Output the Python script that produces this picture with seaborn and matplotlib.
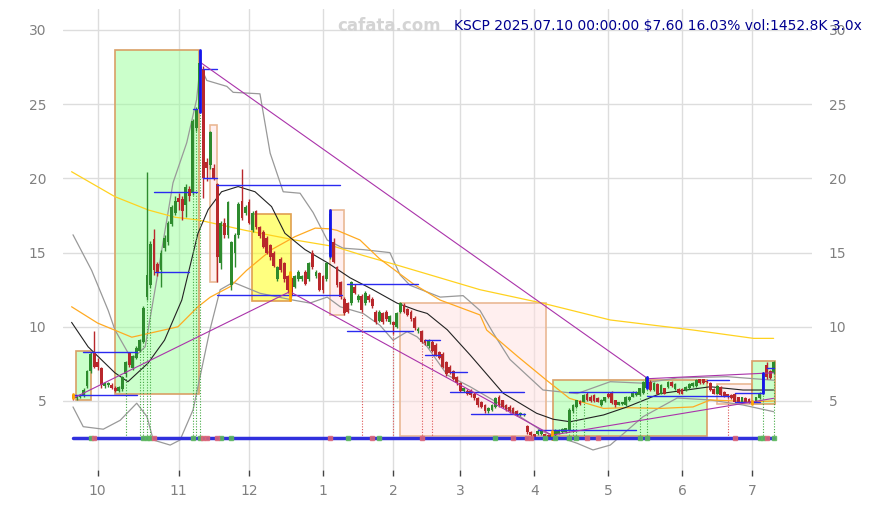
import numpy as np
import pandas as pd
import matplotlib
matplotlib.use("Agg")
import matplotlib.pyplot as plt
import seaborn as sns
from matplotlib.patches import Rectangle

# ---------------- data ----------------
month_idx = [7, 30, 50, 71, 91, 110, 131, 152, 173, 193]
month_labels = ["10", "11", "12", "1", "2", "3", "4", "5", "6", "7"]

opens = [5.4, 5.2, 5.3, 5.35, 6.0, 7.0, 8.3, 7.6, 7.2, 6.0,
         6.1, 6.1, 5.9, 5.7, 5.8, 6.8, 8.25, 7.2, 7.9, 8.4,
         9.0, 12.0, 12.8, 15.9, 14.2, 13.8, 15.3, 15.7, 16.9, 17.7,
         18.7, 18.6, 18.2, 19.3, 19.0, 23.4, 24.7, 27.4, 21.1, 20.9,
         20.7, 19.6, 14.3, 17.0, 16.2, 12.8, 15.0, 16.2, 18.5, 17.7,
         18.4, 16.5, 17.8, 16.7, 16.4, 16.0, 15.5, 15.0, 13.2, 14.6,
         14.3, 13.4, 13.3, 12.7, 13.2, 13.2, 13.7, 13.2, 15.0, 13.4,
         13.6, 13.4, 13.2, 14.8, 15.7, 14.0, 13.0, 11.9, 11.6, 11.6,
         12.7, 11.8, 12.1, 11.6, 12.1, 11.9, 11.0, 10.4, 10.9, 11.0,
         10.3, 10.3, 10.0, 11.0, 11.5, 11.2, 11.0, 10.6, 9.75, 9.7,
         9.1, 8.7, 9.0, 8.8, 8.3, 8.2, 7.6, 7.3, 7.0, 6.6,
         6.2, 5.7, 5.7, 5.7, 5.5, 5.2, 4.95, 4.7, 4.3, 4.4,
         4.6, 5.3, 5.05, 4.7, 4.6, 4.5, 4.3, 4.05, 4.05, 3.3,
         2.9, 2.75, 2.8, 2.75, 2.75, 2.7, 2.55, 2.7, 2.8, 2.9,
         2.9, 3.05, 4.3, 4.6, 5.0, 4.95, 5.45, 5.3, 5.4, 5.2,
         4.7, 5.0, 5.5, 5.6, 5.07, 4.75, 4.8, 4.7, 5.07, 5.3,
         5.4, 5.4, 5.56, 5.85, 6.3, 5.74, 6.15, 5.5, 5.85, 5.96,
         6.3, 5.8, 5.8, 5.8, 5.74, 5.85, 6.0, 6.0, 6.46, 6.46,
         6.3, 6.23, 5.8, 5.5, 5.96, 5.6, 5.45, 5.4, 5.5, 5.25,
         4.95, 5.2, 5.15, 5.0, 4.95, 5.18, 5.56, 7.4, 7.0, 6.9]
highs = [5.5, 5.4, 5.5, 5.9, 7.1, 8.3, 9.7, 7.9, 7.3, 6.3,
         6.3, 6.2, 6.0, 6.0, 6.7, 7.7, 8.3, 8.1, 8.7, 9.2,
         11.4, 20.4, 15.8, 16.6, 14.4, 15.2, 16.2, 17.1, 18.2, 18.8,
         19.0, 18.8, 19.6, 19.5, 24.0, 24.8, 28.6, 27.6, 21.4, 23.2,
         21.0, 19.7, 17.1, 17.3, 18.5, 15.8, 16.3, 18.4, 20.6, 18.2,
         18.6, 17.8, 17.9, 16.8, 16.5, 16.1, 15.6, 15.1, 14.1, 14.7,
         14.4, 13.5, 13.4, 13.5, 13.8, 13.5, 13.8, 14.4, 15.2, 13.8,
         13.7, 13.5, 14.4, 17.9, 16.0, 14.1, 13.1, 12.0, 11.7, 13.1,
         12.9, 12.2, 12.2, 12.4, 12.2, 12.0, 11.1, 11.1, 11.0, 11.1,
         10.8, 10.4, 11.0, 11.7, 11.6, 11.3, 11.1, 10.7, 10.0, 9.8,
         9.2, 9.2, 9.1, 8.9, 8.4, 8.3, 7.7, 7.4, 7.1, 6.7,
         6.3, 5.9, 5.8, 5.8, 5.6, 5.3, 5.0, 4.8, 4.6, 4.8,
         5.3, 5.4, 5.1, 4.8, 4.7, 4.6, 4.4, 4.25, 4.2, 3.4,
         3.0, 2.8, 3.1, 3.0, 2.8, 2.75, 3.0, 3.1, 3.1, 3.15,
         3.2, 4.5, 4.8, 5.1, 5.1, 5.5, 5.6, 5.4, 5.5, 5.3,
         5.15, 5.3, 5.6, 5.7, 5.1, 4.95, 4.95, 5.35, 5.35, 5.65,
         5.65, 5.9, 6.35, 6.7, 6.4, 6.25, 6.2, 6.15, 5.9, 6.35,
         6.35, 6.2, 5.85, 5.85, 6.0, 6.2, 6.25, 6.45, 6.5, 6.5,
         6.35, 6.3, 5.85, 6.05, 6.0, 5.65, 5.5, 5.45, 5.55, 5.3,
         5.3, 5.25, 5.2, 5.05, 5.3, 5.6, 6.95, 7.6, 7.1, 7.7]
lows = [5.1, 5.1, 5.2, 5.3, 5.9, 6.9, 7.2, 7.1, 5.9, 5.9,
        5.95, 5.8, 5.6, 5.6, 5.7, 6.6, 7.3, 7.1, 7.8, 8.3,
        8.9, 11.8, 12.6, 13.5, 13.4, 12.7, 15.1, 15.5, 16.8, 17.5,
        17.9, 17.2, 17.4, 18.5, 18.9, 23.2, 24.4, 18.7, 19.8, 20.6,
        19.9, 13.0, 13.9, 16.0, 16.0, 12.5, 14.0, 16.0, 17.2, 17.5,
        16.9, 16.4, 16.6, 16.0, 15.3, 14.9, 14.5, 14.0, 13.1, 13.7,
        13.0, 12.3, 12.0, 12.6, 13.1, 13.1, 12.8, 13.1, 13.9, 13.3,
        12.4, 12.3, 13.1, 14.6, 14.3, 12.7, 11.9, 10.8, 10.9, 11.5,
        12.2, 11.7, 11.0, 11.5, 11.7, 11.3, 10.2, 10.3, 10.2, 10.4,
        10.2, 9.5, 9.9, 10.9, 10.9, 10.7, 10.4, 9.8, 9.6, 8.9,
        8.8, 8.6, 8.3, 8.0, 7.8, 7.2, 6.7, 6.8, 6.4, 6.1,
        5.6, 5.6, 5.4, 5.3, 5.1, 4.6, 4.5, 4.2, 4.2, 4.3,
        4.5, 4.6, 4.5, 4.3, 4.2, 4.1, 4.0, 4.0, 4.0, 2.8,
        2.6, 2.5, 2.7, 2.7, 2.5, 2.45, 2.4, 2.65, 2.75, 2.85,
        2.85, 3.0, 4.2, 4.5, 4.7, 4.9, 5.0, 4.9, 4.9, 4.9,
        4.65, 4.95, 5.2, 4.8, 4.6, 4.7, 4.75, 4.65, 5.0, 5.25,
        5.35, 5.35, 5.5, 5.8, 5.7, 5.7, 5.45, 5.45, 5.45, 5.9,
        5.95, 5.75, 5.5, 5.45, 5.7, 5.8, 5.95, 5.95, 6.15, 6.15,
        6.2, 5.7, 5.45, 5.45, 5.35, 5.3, 5.2, 5.15, 4.9, 4.9,
        4.9, 4.9, 4.85, 4.8, 4.9, 5.15, 5.5, 6.5, 6.5, 6.85]
closes = [5.2, 5.3, 5.4, 5.75, 7.0, 8.2, 7.3, 7.3, 6.1, 6.2,
          6.2, 5.9, 5.7, 5.95, 6.6, 7.6, 7.4, 8.0, 8.6, 9.1,
          11.3, 13.5, 15.6, 13.8, 13.7, 15.0, 16.0, 17.0, 18.1, 18.5,
          18.4, 17.8, 19.4, 18.8, 23.9, 24.7, 27.8, 20.0, 20.7, 23.1,
          20.0, 14.7, 17.0, 16.2, 18.4, 15.7, 16.2, 18.3, 17.3, 18.1,
          17.0, 17.7, 16.7, 16.1, 15.4, 15.0, 14.7, 14.1, 14.0, 13.8,
          13.2, 12.5, 12.1, 13.4, 13.7, 13.4, 12.9, 14.3, 14.0, 13.7,
          12.5, 12.5, 14.3, 17.6, 14.4, 12.8, 12.0, 10.9, 11.0, 13.0,
          12.3, 12.1, 11.1, 12.3, 11.8, 11.4, 10.3, 11.0, 10.3, 10.5,
          10.7, 10.1, 10.9, 11.6, 11.0, 10.8, 10.5, 9.9, 9.85, 9.0,
          8.9, 9.1, 8.4, 8.1, 7.9, 7.3, 6.8, 6.9, 6.5, 6.2,
          5.7, 5.85, 5.5, 5.4, 5.2, 4.7, 4.6, 4.3, 4.5, 4.7,
          5.2, 4.7, 4.6, 4.4, 4.3, 4.2, 4.1, 4.2, 4.15, 2.9,
          2.7, 2.6, 3.0, 2.95, 2.55, 2.55, 2.7, 3.0, 3.0, 3.1,
          3.15, 4.4, 4.7, 5.05, 4.8, 5.4, 5.05, 5.0, 5.0, 4.95,
          5.1, 5.25, 5.3, 4.85, 4.7, 4.9, 4.9, 5.3, 5.3, 5.6,
          5.6, 5.85, 6.3, 6.6, 5.74, 6.2, 5.5, 6.1, 5.5, 6.3,
          6.0, 6.15, 5.56, 5.5, 5.96, 6.15, 6.2, 6.4, 6.2, 6.2,
          6.25, 5.74, 5.5, 6.0, 5.4, 5.35, 5.25, 5.2, 4.95, 4.95,
          5.25, 4.95, 4.9, 4.9, 5.25, 5.56, 6.9, 6.6, 6.55, 7.6]

# moving averages / bands (index, value)
ma_black_x = [-0.4, 4.3, 11.9, 15.6, 21.3, 26, 30.9, 35.5, 38.4, 42.2, 46.9, 51.7, 56.4, 60.2,
              65.9, 72.4, 78.7, 85.2, 92, 97.7, 100.6, 106.3, 112.8, 122.2, 131.7, 136.4, 141.2,
              150.7, 157.4, 166.8, 181, 190.3, 199]
ma_black_y = [10.3, 8.65, 6.9, 6.3, 7.55, 9.1, 11.8, 16.3, 17.9, 19.1, 19.45, 19.1, 18.1, 16.3,
              15.2, 14.3, 13.3, 12.5, 11.6, 11.1, 10.9, 9.8, 8.1, 5.52, 4.17, 3.77, 3.6,
              4.06, 4.6, 5.5, 5.96, 5.74, 5.74]
ma_orange_x = [-0.4, 7, 16.7, 22.4, 29.8, 35.5, 39, 44.6, 49.3, 56.4, 63, 68.8, 73, 75, 81.5,
               87, 96.6, 104.3, 115.6, 117.5, 126.4, 134.5, 141, 150.7, 157, 166.8, 176.1,
               181, 193.3, 199]
ma_orange_y = [11.35, 10.25, 9.3, 9.6, 10.0, 11.35, 12.0, 12.7, 13.8, 15.2, 16.07, 16.65, 16.6,
               16.5, 15.85, 14.6, 12.9, 11.8, 10.8, 9.78, 7.98, 6.4, 5.18, 4.5, 4.55, 4.5, 4.6,
               5.07, 4.95, 5.0]
ma_gold_x = [-0.4, 11.9, 21.4, 29, 35.6, 48.9, 63, 74.4, 82.5, 92, 101.4, 115.6, 133.6, 152.6,
             176.2, 193.3, 199]
ma_gold_y = [20.45, 18.77, 17.87, 17.38, 17.2, 16.5, 15.85, 15.4, 14.8, 14.16, 13.5, 12.5, 11.58,
             10.46, 9.78, 9.22, 9.22]
bb_up_x = [0, 5.3, 10, 11.9, 16.7, 20.5, 24.1, 28.4, 32.3, 35.1, 36.1, 38, 43.7, 45.5, 53.1, 56,
           59.7, 64.5, 68.2, 72.2, 76.7, 82.4, 90, 92.9, 95.7, 104.3, 110.8, 115.6, 119.3, 124.1,
           133.5, 143.2, 152.6, 161.9, 171.6, 185.8, 199]
bb_up_y = [16.2, 13.8, 11.1, 9.8, 7.8, 8.65, 13.6, 19.7, 22.4, 25.3, 27.6, 26.6, 26.2, 25.8, 25.7,
           21.7, 19.1, 19.0, 17.7, 15.85, 15.3, 15.2, 15.0, 13.5, 12.8, 12.0, 12.1, 11.1, 9.6, 7.8,
           5.74, 5.5, 6.3, 6.2, 6.55, 6.64, 6.4]
bb_lo_x = [0, 2.9, 8.6, 13.4, 18.1, 21, 22.8, 27.6, 30.4, 34.1, 38.9, 41.8, 45.5, 53.1, 62.5,
           67.3, 72.2, 75.9, 82.4, 87.2, 90.9, 94.9, 97.7, 100.6, 106.3, 112.8, 124.1, 133.5,
           143.2, 147.7, 152.6, 161.9, 171.6, 181, 190.3, 199]
bb_lo_y = [4.6, 3.27, 3.1, 3.7, 4.85, 3.95, 2.37, 2.03, 2.37, 4.4, 9.8, 12.5, 13.0, 12.26, 11.8,
           11.6, 12.0, 11.35, 10.9, 10.1, 9.1, 9.67, 9.33, 8.66, 6.75, 5.96, 4.4, 2.93, 2.15, 1.7,
           2.03, 3.94, 5.2, 5.07, 4.73, 4.28]

# boxes: (kind, i0, i1, low, high)
boxes = [("g", 0.85, 5.0, 5.07, 8.37), ("g", 11.9, 35.8, 5.45, 28.65),
         ("p", 38.9, 41.0, 13.0, 23.6), ("y", 50.9, 62.0, 11.76, 17.58),
         ("p", 73.0, 77.0, 10.8, 17.87), ("p", 92.9, 134.3, 2.64, 11.58),
         ("g", 136.2, 180.2, 2.64, 6.42), ("p", 183.0, 193.0, 4.78, 6.12),
         ("g", 193.0, 199.4, 4.78, 7.7)]

# support / resistance segments (value, i0, i1)
levels = [(8.28, 2.9, 18.2), (5.38, 0, 18.2), (13.67, 23.3, 33), (19.1, 23, 32.7),
          (19.05, 33.8, 35.2), (24.65, 34, 35.3), (27.4, 37, 40.9), (20.0, 37, 41),
          (19.55, 40.8, 75.9), (12.15, 40.8, 76.3), (12.86, 77.7, 98.1), (9.72, 77.7, 96.7),
          (9.11, 100, 104.3), (8.1, 100, 104.3), (6.93, 107, 112), (5.63, 107, 128),
          (4.12, 113, 128.4), (3.05, 132, 160), (5.58, 141, 160), (5.36, 163, 186.4),
          (6.42, 180, 186.4), (5.52, 188, 195.6), (4.9, 188, 195), (7.2, 197, 199)]

# trend lines (i0, v0, i1, v1)
trends = [(36, 27.85, 163, 6.55), (0, 5.18, 61.6, 12.37), (61.6, 12.37, 136, 2.7),
          (136, 2.7, 199, 5.18), (163, 6.5, 199, 6.9)]

# blue signal bars (index, low, high)
blue_bars = [(36, 24.5, 28.65), (73, 14.8, 17.9), (163, 5.85, 6.6), (196, 5.56, 6.9)]
orange_bars = [(0, 5.2, 5.5), (61.6, 11.8, 13.7), (136, 2.45, 3.0), (193, 4.8, 5.0)]

green_dots = [15, 19, 20, 21, 22, 34, 35, 36, 141, 142, 143, 145, 161, 163, 196, 199]
red_dots = [82, 91, 99, 102, 186]
green_marks = [5, 20, 21, 22, 34, 36, 42, 45, 78, 87, 120, 134, 137, 141, 143, 161, 163, 195, 196, 199]
red_marks = [6, 23, 37, 38, 41, 73, 85, 99, 125, 129, 130, 146, 149, 188, 197]
base_level = 2.5

# ---------------- plot ----------------
sns.set_theme(style="whitegrid", rc={"grid.color": "#dddddd", "grid.linewidth": 1.0})
plt.rcParams["font.family"] = ["DejaVu Sans"]

fig = plt.figure(figsize=(8.72, 5.05), dpi=100)
ax = fig.add_axes([63 / 872, 35 / 505, (812 - 63) / 872, (496 - 35) / 505])
ax.set_facecolor("white")
ax.set_axisbelow(True)

fills = {"g": ("#99ff99", "#d9a066"), "p": ("#ffe0e0", "#eab894"), "y": ("#ffff00", "#e0a050")}
for kind, i0, i1, lo, hi in boxes:
    fc, ec = fills[kind]
    ax.add_patch(Rectangle((i0, lo), i1 - i0, hi - lo, facecolor=fc, alpha=0.5,
                           edgecolor="none", zorder=1))
    ax.add_patch(Rectangle((i0, lo), i1 - i0, hi - lo, facecolor="none",
                           edgecolor=ec, lw=1.2, zorder=1.1))

df = pd.DataFrame({"i": np.arange(len(closes)), "open": opens, "high": highs,
                   "low": lows, "close": closes})

for xs, ys, col, lw in [(bb_up_x, bb_up_y, "#999999", 0.9), (bb_lo_x, bb_lo_y, "#999999", 0.9),
                        (ma_gold_x, ma_gold_y, "#ffd21f", 0.9),
                        (ma_orange_x, ma_orange_y, "#ffaa22", 0.9),
                        (ma_black_x, ma_black_y, "#222222", 0.8)]:
    sns.lineplot(x=xs, y=ys, ax=ax, color=col, lw=lw, sort=False, estimator=None, zorder=2)

# dotted signal lines
for i in green_dots:
    ax.plot([i, i], [base_level, df.low[i]], ls=(0, (1, 1.5)), color="#44aa44", lw=0.8, zorder=2)
for i in red_dots:
    ax.plot([i, i], [base_level, df.low[i]], ls=(0, (1, 1.5)), color="#dd5555", lw=0.8, zorder=2)

# candles
up = df.close >= df.open
cols = np.where(up, "#2e8b2e", "#b8282c")
ax.vlines(df.i, df.low, df.high, colors=cols, lw=1, zorder=3)
bottoms = np.minimum(df.open, df.close)
heights = np.maximum(np.abs(df.close - df.open), 0.08)
ax.bar(df.i, heights, bottom=bottoms, width=0.8, color=cols, linewidth=0, zorder=3)

# levels
for v, i0, i1 in levels:
    ax.plot([i0, i1], [v, v], color="#2a2af0", lw=1.0, zorder=4)

for i0, v0, i1, v1 in trends:
    sns.lineplot(x=[i0, i1], y=[v0, v1], ax=ax, color="#aa33aa", lw=0.8, zorder=4)

for i, lo, hi in blue_bars:
    ax.plot([i, i], [lo, hi], color="#1515ee", lw=2, zorder=5)
for i, lo, hi in orange_bars:
    ax.plot([i, i], [lo, hi], color="#ffa500", lw=2, zorder=5)

ax.plot([0, len(closes) - 1], [base_level, base_level], color="#3030dd", lw=2.5, zorder=5)
ax.plot(green_marks, [base_level] * len(green_marks), ls="none", marker="s", ms=3.5,
        color="#5cb85c", alpha=0.85, zorder=6)
ax.plot(red_marks, [base_level] * len(red_marks), ls="none", marker="s", ms=3.5,
        color="#dd6677", alpha=0.85, zorder=6)

# axes
ax.set_xlim(-2.84, 209.9)
ax.set_ylim(0.35, 31.415)
ax.set_xticks(month_idx)
ax.set_xticklabels(month_labels)
ax.set_yticks([5, 10, 15, 20, 25, 30])
ax.set_xlabel("")
ax.set_ylabel("")
ax.tick_params(axis="x", bottom=True, length=4, width=1, color="#444444",
               labelcolor="#808080", labelsize=10, pad=6, direction="out")
ax.tick_params(axis="y", left=False, right=False, labelleft=True, labelright=True,
               labelcolor="#808080", labelsize=10, pad=6)
for s in ax.spines.values():
    s.set_visible(False)

fig.text(389 / 872, 1 - 26 / 505, "cafata.com", ha="center", va="center",
         fontsize=12, fontweight="bold", color="#d4d4d4")
fig.text(862 / 872, 1 - 26 / 505, "KSCP 2025.07.10 00:00:00 $7.60 16.03% vol:1452.8K 3.0x",
         ha="right", va="center", fontsize=10, color="#000090", zorder=10)

fig.savefig("out.png", dpi=100)
